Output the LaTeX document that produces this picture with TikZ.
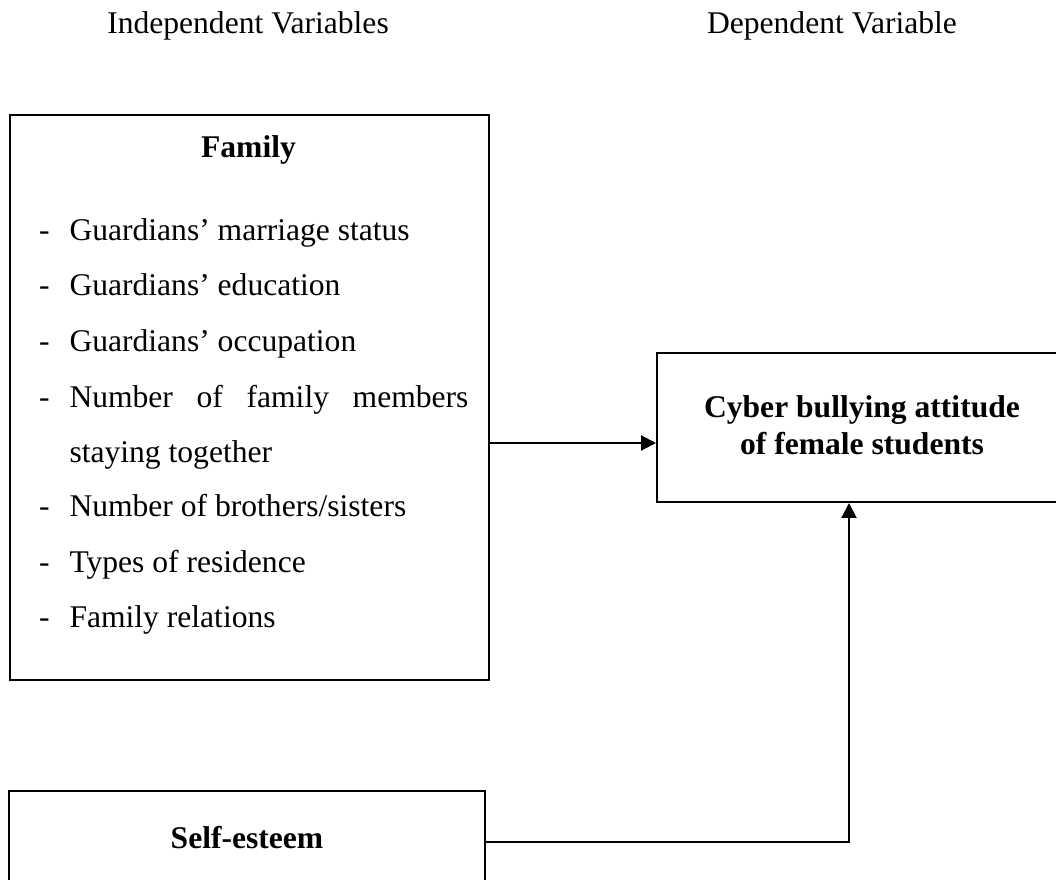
\documentclass[tikz,border=0pt]{standalone}
\usepackage{fontspec}
\setmainfont{Liberation Serif}
\usetikzlibrary{arrows.meta}
\usetikzlibrary{fit}

\begin{document}
\begin{tikzpicture}[x=0.38pt, y=-0.38pt, >={Triangle[length=5.7pt, width=5.7pt]},
    txt/.style={inner sep=0pt, font=\fontsize{12}{14.4}\selectfont},
    head/.style={inner sep=0pt, font=\fontsize{12}{14.4}\selectfont\bfseries},
    box/.style={draw, line width=0.75pt, inner sep=0pt}]
    % Page with margins
    \useasboundingbox (0,0) rectangle (1056,879);
    \clip (0,0) rectangle (1056,879);

    % Column headings
    \node[txt, anchor=base] (indep) at (248,33) {Independent Variables};
    \node[txt, anchor=base] (dep) at (832,33) {Dependent Variable};

    % Boxes
    \node[box, fit={(10,115) (489,680)}] (family) {};
    \node[box, fit={(657,353) (1067,502)}] (cyber) {};
    \node[box, fit={(9,791) (485,905)}] (self) {};

    % Family box
    \node[head, anchor=base] (famtitle) at (248.5,157) {Family};
    \node[txt, anchor=base west] (d1) at (38.5,240) {-};
    \node[txt, anchor=base west] (i1) at (69,240) {Guardians' marriage status};
    \node[txt, anchor=base west] (d2) at (38.5,295) {-};
    \node[txt, anchor=base west] (i2) at (69,295) {Guardians' education};
    \node[txt, anchor=base west] (d3) at (38.5,351) {-};
    \node[txt, anchor=base west] (i3) at (69,351) {Guardians' occupation};
    \node[txt, anchor=base west] (d4) at (38.5,407) {-};
    \node[txt, anchor=base west] (i4) at (69,407) {\makebox[151.6pt][s]{Number of family members}};
    \node[txt, anchor=base west] (i5) at (69,462) {staying together};
    \node[txt, anchor=base west] (d6) at (38.5,516) {-};
    \node[txt, anchor=base west] (i6) at (69,516) {Number of brothers/sisters};
    \node[txt, anchor=base west] (d7) at (38.5,572) {-};
    \node[txt, anchor=base west] (i7) at (69,572) {Types of residence};
    \node[txt, anchor=base west] (d8) at (38.5,627) {-};
    \node[txt, anchor=base west] (i8) at (69,627) {Family relations};

    % Dependent variable box
    \node[head, anchor=base] (cybtop) at (862,417) {Cyber bullying attitude};
    \node[head, anchor=base] (cybbot) at (862,454) {of female students};

    % Self-esteem box
    \node[head, anchor=base] (selftext) at (247,848) {Self-esteem};

    % Connectors
    \coordinate (link) at (0,443);
    \coordinate (bend) at (849,842);
    \draw[->, line width=0.75pt] (family.east |- link) -- (cyber.west |- link);
    \draw[->, line width=0.75pt] (self.east |- bend) -- (bend) -- (cyber.south -| bend);
\end{tikzpicture}
\end{document}
